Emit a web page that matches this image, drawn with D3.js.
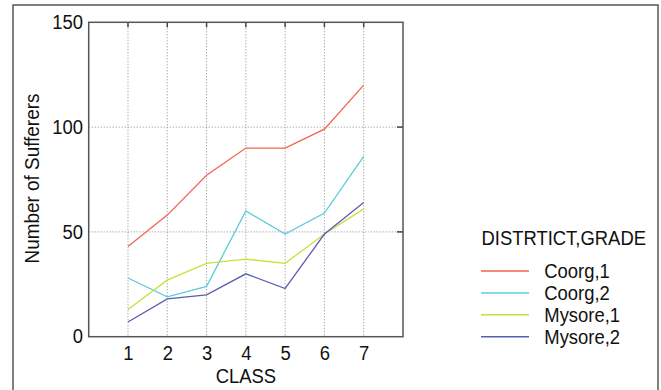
<!DOCTYPE html>
<html>
<head>
<meta charset="utf-8">
<script src="https://cdn.jsdelivr.net/npm/d3@7/dist/d3.min.js"></script>
<style>
  html, body { margin: 0; padding: 0; background: #fff; }
  svg { display: block; }
  text { font-family: "Liberation Sans", Arial, sans-serif; fill: #111; }
</style>
</head>
<body>
<svg id="chart" width="661" height="390"></svg>
<script>
const classes = [1, 2, 3, 4, 5, 6, 7];
const xTicks = [1, 2, 3, 4, 5, 6, 7];
const yTicks = [0, 50, 100, 150];
const seriesNames = ["Coorg,1", "Coorg,2", "Mysore,1", "Mysore,2"];
const coorg1 = [43, 58, 77, 90, 90, 99, 120];
const coorg2 = [28, 19, 24, 60, 49, 59, 86];
const mysore1 = [13, 27, 35, 37, 35, 49, 61];
const mysore2 = [7, 18, 20, 30, 23, 49, 64];
const seriesColors = ["#f0654d", "#5ccbdc", "#c9e03a", "#5a5db4"];
const legendTitle = "DISTRTICT,GRADE";
const xLabel = "CLASS";
const yLabel = "Number of Sufferers";

const series = [coorg1, coorg2, mysore1, mysore2];
const FS = 19.5, SX = 0.945;

const svg = d3.select("#chart");

// outer frame
svg.append("rect")
  .attr("x", 13).attr("y", 5).attr("width", 645).attr("height", 400)
  .attr("fill", "none").attr("stroke", "#555").attr("stroke-width", 1.5);

const plot = { left: 88.7, top: 22.3, right: 403, bottom: 336.7 };

const x = d3.scaleLinear().domain([0, 8]).range([plot.left, plot.right]);
const y = d3.scaleLinear().domain([0, 150]).range([plot.bottom, plot.top]);

// grid lines
const grid = svg.append("g");
grid.selectAll("line.vg").data(xTicks).join("line")
  .attr("x1", d => x(d)).attr("x2", d => x(d))
  .attr("y1", plot.top).attr("y2", plot.bottom)
  .attr("stroke", "#888").attr("stroke-width", 1).attr("stroke-dasharray", "1,2");
grid.selectAll("line.hg").data(yTicks.filter(d => d > 0 && d < 150)).join("line")
  .attr("x1", plot.left).attr("x2", plot.right)
  .attr("y1", d => y(d)).attr("y2", d => y(d))
  .attr("stroke", "#888").attr("stroke-width", 1).attr("stroke-dasharray", "1,2");

// axes (labels)
const xAxis = d3.axisBottom(x).tickValues(xTicks).tickSize(0).tickPadding(9).tickFormat(d3.format("d"));
const yAxis = d3.axisLeft(y).tickValues(yTicks).tickSize(0).tickPadding(6).tickFormat(d3.format("d"));

const gx = svg.append("g").attr("transform", `translate(0,${plot.bottom})`).call(xAxis);
gx.select(".domain").remove();
gx.selectAll("text").attr("font-size", FS).attr("font-family", "Liberation Sans, Arial, sans-serif")
  .attr("fill", "#111").attr("transform", `scale(${SX},1)`);

const gy = svg.append("g").attr("transform", `translate(${plot.left},0)`).call(yAxis);
gy.select(".domain").remove();
gy.selectAll("text").attr("font-size", FS).attr("font-family", "Liberation Sans, Arial, sans-serif")
  .attr("fill", "#111").attr("transform", `scale(${SX},1)`);

// inward ticks on top and right
const tk = svg.append("g");
tk.selectAll("line.tt").data(xTicks).join("line")
  .attr("x1", d => x(d)).attr("x2", d => x(d))
  .attr("y1", plot.top).attr("y2", plot.top + 5)
  .attr("stroke", "#444").attr("stroke-width", 1.5);
tk.selectAll("line.rt").data(yTicks.filter(d => d > 0 && d < 150)).join("line")
  .attr("x1", plot.right - 6).attr("x2", plot.right)
  .attr("y1", d => y(d)).attr("y2", d => y(d))
  .attr("stroke", "#444").attr("stroke-width", 1.5);

// lines
const line = d3.line().x((d, i) => x(classes[i])).y(d => y(d));
svg.append("g").selectAll("path").data(series).join("path")
  .attr("d", d => line(d))
  .attr("fill", "none")
  .attr("stroke", (d, i) => seriesColors[i])
  .attr("stroke-width", 1.3);

// plot box
svg.append("rect")
  .attr("x", plot.left).attr("y", plot.top)
  .attr("width", plot.right - plot.left).attr("height", plot.bottom - plot.top)
  .attr("fill", "none").attr("stroke", "#555").attr("stroke-width", 1.5);

// axis titles
svg.append("text")
  .attr("transform", `translate(${(plot.left + plot.right) / 2},382.5) scale(${SX},1)`)
  .attr("text-anchor", "middle").attr("font-size", FS)
  .text(xLabel);
svg.append("text")
  .attr("transform", `translate(38.5,${(plot.top + plot.bottom) / 2 - 1}) rotate(-90) scale(0.97,1)`)
  .attr("text-anchor", "middle").attr("font-size", 19.5)
  .text(yLabel);

// legend
const lg = svg.append("g");
lg.append("text").attr("transform", `translate(481.5,244.5) scale(${SX},1)`)
  .attr("font-size", FS).text(legendTitle);
const items = lg.selectAll("g.item").data(seriesNames).join("g")
  .attr("transform", (d, i) => `translate(0,${271 + i * 21.9})`);
items.append("line")
  .attr("x1", 481).attr("x2", 529).attr("y1", 0).attr("y2", 0)
  .attr("stroke", (d, i) => seriesColors[i]).attr("stroke-width", 1.5);
items.append("text")
  .attr("transform", `translate(544.3,6.8) scale(${SX},1)`)
  .attr("font-size", FS)
  .text(d => d);
</script>
</body>
</html>
